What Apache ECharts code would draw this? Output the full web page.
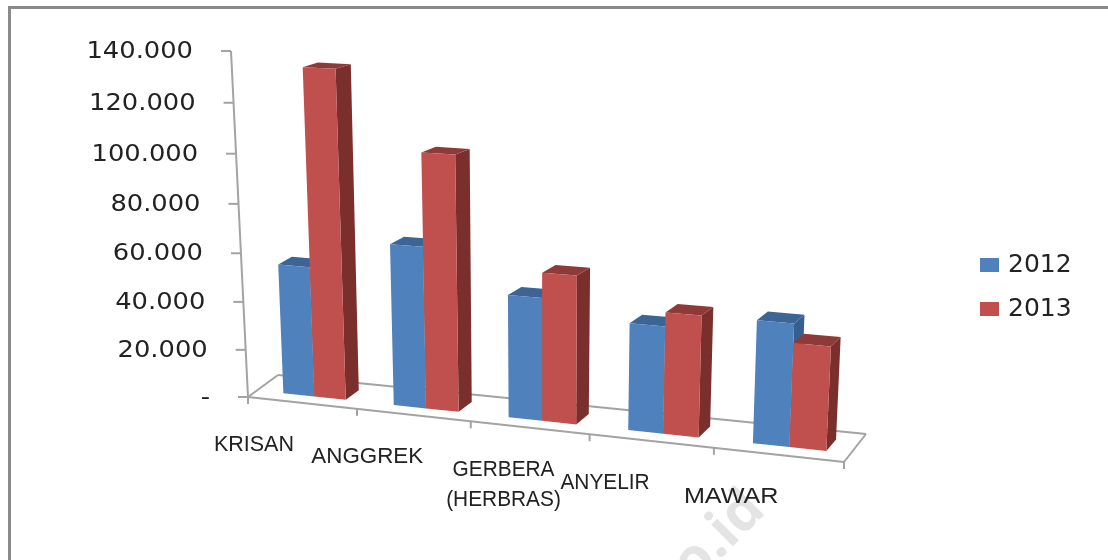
<!DOCTYPE html>
<html>
<head>
<meta charset="utf-8">
<style>html,body{margin:0;padding:0;background:#fff}#chart{width:1108px;height:560px}</style>
<script src="https://cdn.jsdelivr.net/npm/echarts@6/dist/echarts.min.js"></script>
</head>
<body>
<div id="chart"></div>
<script>
// Production per flower type, in a perspective 3D column layout
const categories = ['KRISAN', 'ANGGREK', 'GERBERA\n(HERBRAS)', 'ANYELIR', 'MAWAR'];
const seriesNames = ['2012', '2013'];
const values2012 = [54000, 66000, 49500, 42500, 48000];
const values2013 = [133500, 103000, 59500, 48000, 40500];
const tickValues = [0, 20000, 40000, 60000, 80000, 100000, 120000, 140000];
const tickLabels = ['-', '20.000', '40.000', '60.000', '80.000', '100.000', '120.000', '140.000'];
const categoryLabelNudge = [-48, -46, -26, -46, -47];
const categoryLabelStretch = [1, 1.04, 0.97, 0.97, 1.17];

const palette = [
  { front: '#4F81BD', top: '#3C6595', side: '#365E8E' },
  { front: '#C0504D', top: '#8E3A38', side: '#7B2F2D' }
];
const axisColor = '#A3A3A3';
const textColor = '#222222';

// Projective map of the unit square onto a quad (p0 = 0,0  p1 = 1,0  p2 = 1,1  p3 = 0,1)
function quadMap(p0, p1, p2, p3) {
  const dx1 = p1[0] - p2[0], dx2 = p3[0] - p2[0], sx = p0[0] - p1[0] + p2[0] - p3[0];
  const dy1 = p1[1] - p2[1], dy2 = p3[1] - p2[1], sy = p0[1] - p1[1] + p2[1] - p3[1];
  const det = dx1 * dy2 - dx2 * dy1;
  const g = (sx * dy2 - dx2 * sy) / det, h = (dx1 * sy - sx * dy1) / det;
  const a = p1[0] - p0[0] + g * p1[0], b = p3[0] - p0[0] + h * p3[0];
  const d = p1[1] - p0[1] + g * p1[1], e = p3[1] - p0[1] + h * p3[1];
  return (u, v) => {
    const w = g * u + h * v + 1;
    return [(a * u + b * v + p0[0]) / w, (d * u + e * v + p0[1]) / w];
  };
}
const frontPlane = quadMap([248, 397], [844, 462], [862, 77], [231, 51]);
const backPlane = quadMap([278, 375], [866, 434], [884, 72], [267, 40]);

// Turns a flat grid pixel plus a depth (0 front, 1 back) into a screen point
function project(pt, rect, depth) {
  const u = (pt[0] - rect.x) / rect.width;
  const v = (rect.y + rect.height - pt[1]) / rect.height;
  const f = frontPlane(u, v), b = backPlane(u, v);
  return [f[0] + (b[0] - f[0]) * depth, f[1] + (b[1] - f[1]) * depth];
}

const barStart = [0.245, 0.53];
const barWidth = 0.285;
const depthNear = 0.3, depthFar = 0.72;

function columnItem(seriesIndex) {
  return function (params, api) {
    const rect = params.coordSys;
    const i = api.value(0), val = api.value(1);
    const x0 = i + barStart[seriesIndex], x1 = x0 + barWidth;
    const at = (x, y, d) => project(api.coord([x, y]), rect, d);
    const c = palette[seriesIndex];
    const poly = (points, fill) => ({ type: 'polygon', shape: { points }, style: { fill } });
    return {
      type: 'group',
      children: [
        poly([at(x1, 0, depthNear), at(x1, 0, depthFar), at(x1, val, depthFar), at(x1, val, depthNear)], c.side),
        poly([at(x0, val, depthNear), at(x1, val, depthNear), at(x1, val, depthFar), at(x0, val, depthFar)], c.top),
        poly([at(x0, 0, depthNear), at(x1, 0, depthNear), at(x1, val, depthNear), at(x0, val, depthNear)], c.front)
      ]
    };
  };
}

// Floor outline, value axis, ticks and their labels
function axesItem(params, api) {
  const rect = params.coordSys;
  const n = categories.length;
  const top = tickValues[tickValues.length - 1];
  const at = (x, y, d) => project(api.coord([x, y]), rect, d);
  const line = (a, b) => ({
    type: 'line',
    shape: { x1: a[0], y1: a[1], x2: b[0], y2: b[1] },
    style: { stroke: axisColor, lineWidth: 2 }
  });
  const kids = [
    line(at(0, 0, 0), at(n, 0, 0)),
    line(at(0, 0, 0), at(0, 0, 1)),
    line(at(0, 0, 1), at(n, 0, 1)),
    line(at(n, 0, 0), at(n, 0, 1)),
    line(at(0, 0, 0), at(0, top, 0))
  ];
  tickValues.forEach((t, k) => {
    const p = at(0, t, 0);
    kids.push(line(p, [p[0] - 10, p[1]]));
    kids.push({
      type: 'text',
      x: p[0] - 38, y: p[1] + 1,
      scaleX: 1.12,
      style: {
        text: tickLabels[k], x: 0, y: 0, fill: textColor,
        font: '23px "DejaVu Sans"', align: 'right', verticalAlign: 'middle'
      }
    });
  });
  for (let i = 0; i <= n; i++) {
    const p = at(i, 0, 0);
    kids.push(line(p, [p[0], p[1] + 7]));
  }
  categories.forEach((name, i) => {
    const p = at(i + 0.5, 0, 0);
    kids.push({
      type: 'text',
      x: p[0] + categoryLabelNudge[i], y: p[1] + 27,
      scaleX: categoryLabelStretch[i],
      style: {
        text: name, x: 0, y: 0, fill: textColor,
        font: '21.5px "Liberation Sans"', lineHeight: 30, align: 'center', verticalAlign: 'top'
      }
    });
  });
  return { type: 'group', children: kids };
}

const chart = echarts.init(document.getElementById('chart'), null, { renderer: 'canvas' });
chart.setOption({
  animation: false,
  backgroundColor: '#fff',
  graphic: [
    { type: 'rect', z: 0, shape: { x: 8, y: 6, width: 1100, height: 3 }, style: { fill: '#8A8A8A' } },
    { type: 'rect', z: 0, shape: { x: 8, y: 6, width: 3, height: 554 }, style: { fill: '#8A8A8A' } },
    {
      type: 'text', z: 0, x: 739, y: 557, rotation: Math.PI / 4,
      style: { text: 'o.id', x: 0, y: 0, fill: '#E4E4E4', font: 'bold 56px "Open Sans"', align: 'center', verticalAlign: 'bottom' }
    }
  ],
  grid: { left: 100, right: 108, top: 40, bottom: 40 },
  xAxis: { type: 'value', min: 0, max: categories.length, show: false },
  yAxis: { type: 'value', min: 0, max: tickValues[tickValues.length - 1], interval: 20000, show: false },
  legend: {
    orient: 'vertical', left: 975, top: 247, icon: 'rect',
    itemWidth: 19, itemHeight: 14, itemGap: 18,
    data: seriesNames,
    selectedMode: false,
    textStyle: { color: textColor, fontFamily: 'DejaVu Sans', fontSize: 25, lineHeight: 26, padding: [0, 0, 0, 4] }
  },
  series: [
    {
      type: 'custom', name: 'axes', z: 1, silent: true, clip: false,
      renderItem: axesItem, data: [[0, 0]], encode: { x: 0, y: 1 }
    },
    {
      type: 'custom', name: seriesNames[0], z: 2, silent: true, clip: false,
      itemStyle: { color: palette[0].front },
      renderItem: columnItem(0), encode: { x: 0, y: 1 },
      data: values2012.map((v, i) => [i, v])
    },
    {
      type: 'custom', name: seriesNames[1], z: 3, silent: true, clip: false,
      itemStyle: { color: palette[1].front },
      renderItem: columnItem(1), encode: { x: 0, y: 1 },
      data: values2013.map((v, i) => [i, v])
    }
  ]
});
</script>
</body>
</html>
